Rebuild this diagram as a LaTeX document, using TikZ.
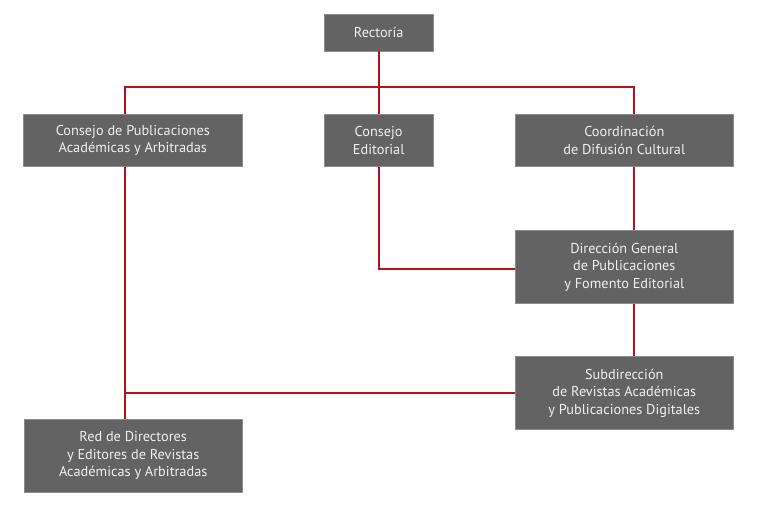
\documentclass[tikz,border=0pt]{standalone}
\usepackage{fontspec}
\setmainfont{PT Sans}
\usepackage{xcolor}

\definecolor{boxgray}{HTML}{636363}
\definecolor{boxedge}{HTML}{8C8C8C}
\definecolor{linered}{HTML}{B5121B}

\tikzset{
  unit/.style={fill=boxgray,draw=boxedge,line width=.5pt,text=white!94!black,
    align=center,inner sep=0pt,font=\fontsize{14.3}{17.5}\selectfont},
  link/.style={linered,line width=2pt}
}

\begin{document}
\begin{tikzpicture}[x=1pt,y=-1pt]
\useasboundingbox (0,0) rectangle (758,510);

\node[unit,minimum width=109pt,minimum height=37pt] (rect) at (378.7,32.5) {Rectoría};
\node[unit,minimum width=219pt,minimum height=52.4pt] (cpub) at (132.8,140.5) {Consejo de Publicaciones\\Académicas y Arbitradas};
\node[unit,minimum width=109pt,minimum height=52.4pt] (cedit) at (378.7,140.5) {Consejo\\Editorial};
\node[unit,minimum width=218pt,minimum height=52.4pt] (coord) at (624.3,140.5) {Coordinación\\de Difusión Cultural};
\node[unit,minimum width=218pt,minimum height=72.6pt] (dgen) at (624.3,267) {Dirección General\\de Publicaciones\\y Fomento Editorial};
\node[unit,minimum width=218pt,minimum height=72.6pt] (subd) at (624.3,393) {Subdirección\\de Revistas Académicas\\y Publicaciones Digitales};
\node[unit,minimum width=218pt,minimum height=73pt] (red) at (133.2,455.7) {Red de Directores\\y Editores de Revistas\\Académicas y Arbitradas};

\coordinate (busL) at (125.3,86.7);
\coordinate (busR) at (634,86.7);

% red connectors
\draw[link] (rect.south) -- (cedit.north);
\draw[link] (busL |- cpub.north) -- (busL) -- (busR) -- (busR |- coord.north);
\draw[link] (busR |- coord.south) -- (busR |- dgen.north);
\draw[link] (busR |- dgen.south) -- (busR |- subd.north);
\draw[link] (cedit.south) -- ([yshift=-2pt]cedit.south |- dgen.west) -- ([yshift=-2pt]dgen.west);
\draw[link] (busL |- cpub.south) -- (busL |- red.north);
\draw[link] (subd.west) -- (busL |- subd.west);
\end{tikzpicture}
\end{document}
